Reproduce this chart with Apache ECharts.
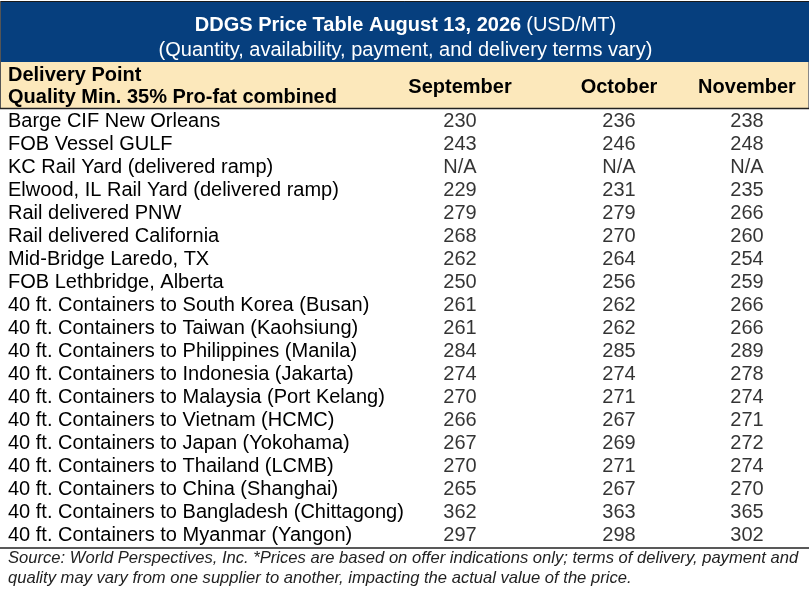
<!DOCTYPE html>
<html>
<head>
<meta charset="utf-8">
<script src="https://cdn.jsdelivr.net/npm/echarts@6/dist/echarts.min.js"></script>
<style>
  html, body { margin: 0; padding: 0; background: #fff; }
  #chart { width: 811px; height: 599px; }
</style>
</head>
<body>
<div id="chart"></div>
<script>
// table data
const months = ['September', 'October', 'November'];
const points = [
    'Barge CIF New Orleans',
    'FOB Vessel GULF',
    'KC Rail Yard (delivered ramp)',
    'Elwood, IL Rail Yard (delivered ramp)',
    'Rail delivered PNW',
    'Rail delivered California',
    'Mid-Bridge Laredo, TX',
    'FOB Lethbridge, Alberta',
    '40 ft. Containers to South Korea (Busan)',
    '40 ft. Containers to Taiwan (Kaohsiung)',
    '40 ft. Containers to Philippines (Manila)',
    '40 ft. Containers to Indonesia (Jakarta)',
    '40 ft. Containers to Malaysia (Port Kelang)',
    '40 ft. Containers to Vietnam (HCMC)',
    '40 ft. Containers to Japan (Yokohama)',
    '40 ft. Containers to Thailand (LCMB)',
    '40 ft. Containers to China (Shanghai)',
    '40 ft. Containers to Bangladesh (Chittagong)',
    '40 ft. Containers to Myanmar (Yangon)'
];
// null = N/A
const september = [230, 243, null, 229, 279, 268, 262, 250, 261, 261, 284, 274, 270, 266, 267, 270, 265, 362, 297];
const october   = [236, 246, null, 231, 279, 270, 264, 256, 262, 262, 285, 274, 271, 267, 269, 271, 267, 363, 298];
const november  = [238, 248, null, 235, 266, 260, 254, 259, 266, 266, 289, 278, 274, 271, 272, 274, 270, 365, 302];

const columns = [september, october, november];
const colCenters = [460, 619, 747];
const colWidth = 120;

const FONT = 'Liberation Sans, Arial, sans-serif';
const BLUE = '#063f7e';
const BEIGE = '#fce8bb';

const chart = echarts.init(document.getElementById('chart'));

const grids = colCenters.map(c => ({
    left: c - colWidth / 2,
    width: colWidth,
    top: 109.5,
    height: 438
}));

const xAxes = months.map((m, i) => ({
    type: 'category',
    gridIndex: i,
    position: 'top',
    data: [m],
    axisLine: {show: false},
    axisTick: {show: false},
    splitLine: {show: false},
    axisLabel: {
        color: '#000',
        fontFamily: FONT,
        fontWeight: 'bold',
        fontSize: 20,
        verticalAlign: 'middle',
        margin: 22.5
    }
}));

const yAxes = months.map((m, i) => ({
    type: 'category',
    gridIndex: i,
    inverse: true,
    data: points,
    axisLine: {show: false},
    axisTick: {show: false},
    splitLine: {show: false},
    axisLabel: {
        show: i === 0,
        interval: 0,
        align: 'left',
        margin: grids[0].left - 8,
        color: '#000',
        fontFamily: FONT,
        fontSize: 20
    }
}));

const series = columns.map((vals, i) => ({
    type: 'scatter',
    xAxisIndex: i,
    yAxisIndex: i,
    symbolSize: 0,
    silent: true,
    data: points.map((p, j) => [months[i], p, vals[j]]),
    label: {
        show: true,
        position: 'inside',
        color: '#000',
        fontFamily: FONT,
        fontSize: 20,
        formatter: p => p.value[2] == null ? 'N/A' : String(p.value[2])
    }
}));

chart.setOption({
    animation: false,
    backgroundColor: '#fff',
    title: [
        {
            left: 'center',
            top: 8,
            text: '{b|DDGS Price Table August 13, 2026} {r|(USD/MT)}',
            textStyle: {
                fontWeight: 'normal',
                rich: {
                    b: {color: '#fff', fontFamily: FONT, fontWeight: 'bold', fontSize: 20, lineHeight: 24},
                    r: {color: '#fff', fontFamily: FONT, fontWeight: 'normal', fontSize: 20, lineHeight: 24}
                }
            }
        },
        {
            left: 'center',
            top: 33,
            text: '(Quantity, availability, payment, and delivery terms vary)',
            textStyle: {color: '#fff', fontFamily: FONT, fontWeight: 'normal', fontSize: 20, lineHeight: 24}
        }
    ],
    graphic: [
        {type: 'rect', z: -10, shape: {x: 0, y: 1, width: 809, height: 61}, style: {fill: BLUE}},
        {type: 'line', z: -9, shape: {x1: 0, y1: 1.5, x2: 809, y2: 1.5}, style: {stroke: '#1a1a1a', lineWidth: 1}},
        {type: 'rect', z: -10, shape: {x: 0, y: 62, width: 809, height: 46}, style: {fill: BEIGE}},
        {type: 'line', z: -9, shape: {x1: 0.5, y1: 1, x2: 0.5, y2: 108}, style: {stroke: '#555', lineWidth: 1}},
        {type: 'line', z: -9, shape: {x1: 808.5, y1: 62, x2: 808.5, y2: 108}, style: {stroke: '#888', lineWidth: 1}},
        {type: 'line', z: -9, shape: {x1: 0, y1: 108.5, x2: 809, y2: 108.5}, style: {stroke: '#222', lineWidth: 1.5}},
        {type: 'line', z: -9, shape: {x1: 0, y1: 548, x2: 809, y2: 548}, style: {stroke: '#222', lineWidth: 1.5}},
        {
            type: 'text', left: 8, top: 64,
            style: {
                text: 'Delivery Point\nQuality Min. 35% Pro-fat combined',
                fill: '#000', font: 'bold 20px ' + FONT, lineHeight: 22
            }
        },
        {
            type: 'text', left: 8, top: 548,
            style: {
                text: 'Source: World Perspectives, Inc. *Prices are based on offer indications only; terms of delivery, payment and\nquality may vary from one supplier to another, impacting the actual value of the price.',
                fill: '#222', font: 'italic 16.6px ' + FONT, lineHeight: 20
            }
        }
    ],
    grid: grids,
    xAxis: xAxes,
    yAxis: yAxes,
    series: series
});
</script>
</body>
</html>
